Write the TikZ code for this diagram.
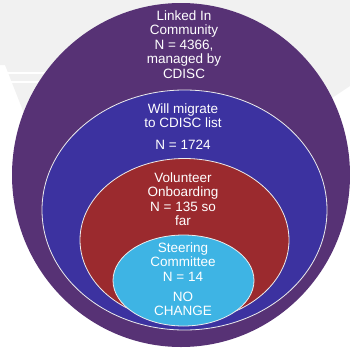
\documentclass[tikz,border=0pt]{standalone}
\usepackage{fontspec}
\setmainfont{Liberation Sans}
\usetikzlibrary{shapes.geometric}
\definecolor{commpurple}{RGB}{87,50,117}
\definecolor{migblue}{RGB}{60,50,160}
\definecolor{onbred}{RGB}{155,42,46}
\definecolor{steercyan}{RGB}{62,180,228}
\definecolor{markgray}{RGB}{241,241,241}
\begin{document}
\begin{tikzpicture}
  [x=1pt,y=-1pt,every node/.style={font=\fontsize{13.5}{14.5}\selectfont,text=white,align=center,inner sep=0pt},
   ring/.style={ellipse,draw=white!85!gray,line width=0.8pt}]
  \useasboundingbox (0,0) rectangle (350,348);
  % faint chevron in the back
  \fill[markgray] (0,0) -- (350,0) -- (350,86) -- (180,200) -- (25,116) -- (5,65) -- (0,65) -- cycle;
  \foreach \y in {73,82}
    \draw[white,line width=1.6pt] (0,\y) -- (60,\y);

  % rings, outside in
  \node[ellipse,fill=commpurple,minimum width=338pt,minimum height=344pt] (comm) at (181,175) {};
  \node[ring,fill=migblue,minimum width=285pt,minimum height=240pt] (migrate) at (184.5,210) {};
  \node[ring,fill=onbred,minimum width=209pt,minimum height=163pt] (onboard) at (184.5,240) {};
  \node[ring,fill=steercyan,minimum width=141pt,minimum height=91pt] (steer) at (183.5,280.5) {};

  % labels
  \node (commtext) at (184,44.5) {Linked In\\Community\\N = 4366,\\managed by\\CDISC};
  \node (migtext) at (183,115.5) {Will migrate\\to CDISC list};
  \node (migcount) at (183,145) {N = 1724};
  \node (onbtext) at (183,199) {Volunteer\\Onboarding\\N = 135 so\\far};
  \node (steertext) at (183,262) {Steering\\Committee\\N = 14};
  \node (steernote) at (183,304) {NO\\CHANGE};
\end{tikzpicture}
\end{document}
